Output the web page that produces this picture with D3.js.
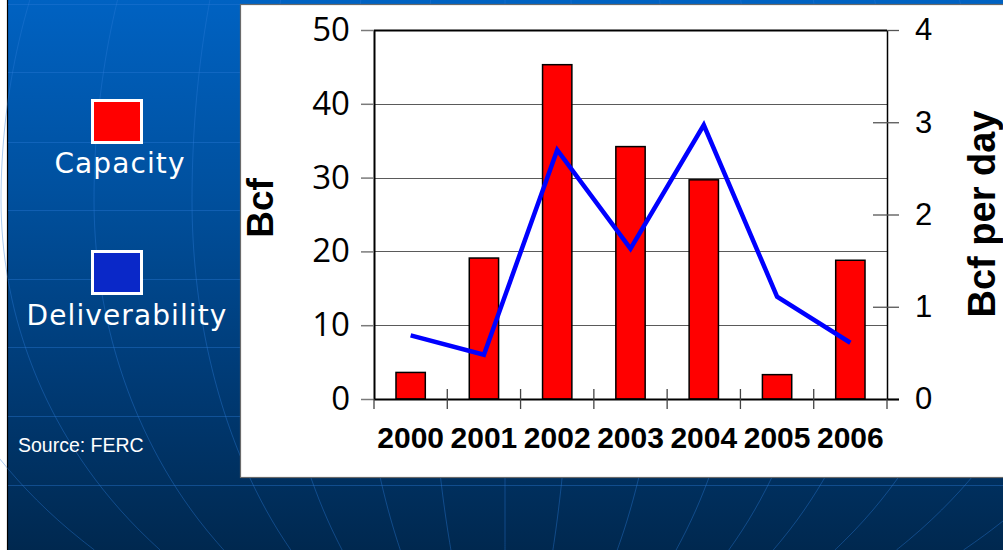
<!DOCTYPE html>
<html>
<head>
<meta charset="utf-8">
<script src="https://cdn.jsdelivr.net/npm/d3@7"></script>
<style>
  html, body { margin: 0; padding: 0; background: #ffffff; }
  svg { display: block; }
</style>
</head>
<body>
<svg id="chart" width="1003" height="550"></svg>
<script>
// ---- data ----
const years = ["2000", "2001", "2002", "2003", "2004", "2005", "2006"];
const capacity = [3.6, 19.1, 45.3, 34.2, 29.7, 3.3, 18.8];        // Bcf (left axis)
const deliverability = [0.69, 0.48, 2.70, 1.63, 2.97, 1.11, 0.61]; // Bcf per day (right axis)
const leftTicks = [0, 10, 20, 30, 40, 50];
const rightTicks = [0, 1, 2, 3, 4];
const legendItems = ["Capacity", "Deliverability"];
const legendColors = ["#ff0000", "#0a28c8"];

(function () {
const W = 1003, H = 550;
const svg = d3.select("#chart");

// ---- background ----
const defs = svg.append("defs");
const grad = defs.append("linearGradient").attr("id", "bg").attr("x1", 0).attr("y1", 0).attr("x2", 0).attr("y2", 1);
grad.append("stop").attr("offset", "0%").attr("stop-color", "#0062c2");
grad.append("stop").attr("offset", "35%").attr("stop-color", "#00509e");
grad.append("stop").attr("offset", "70%").attr("stop-color", "#003a74");
grad.append("stop").attr("offset", "100%").attr("stop-color", "#00284f");

svg.append("rect").attr("x", 0).attr("y", 0).attr("width", W).attr("height", H).attr("fill", "#ffffff");
svg.append("rect").attr("x", 8).attr("y", 0).attr("width", W - 8).attr("height", H).attr("fill", "url(#bg)");
svg.append("line").attr("x1", 7.5).attr("x2", 7.5).attr("y1", 0).attr("y2", H).attr("stroke", "#000").attr("stroke-width", 1.2);

// globe-like decorative lines
const deco = svg.append("g").attr("stroke", "#2a7ad8").attr("stroke-opacity", 0.4).attr("fill", "none").attr("stroke-width", 1);
[4, 72, 142, 210, 279, 347, 416, 485].forEach(y => {
  deco.append("line").attr("x1", 8).attr("x2", W).attr("y1", y + 0.5).attr("y2", y + 0.5);
});
const amps = [600, 504, 411, 313, 238, 153, 79, 0, -70, -164, -250, -327, -392, -482, -572, -670, -760];
const lineGen = d3.line().curve(d3.curveBasis);
amps.forEach(A => {
  const pts = d3.range(0, 551, 10).map(y => {
    const B = y > 200 ? 480 : 600;
    const t = (y - 200) / B;
    return [505 - A * Math.sqrt(Math.max(0, 1 - t * t)), y];
  });
  deco.append("path").attr("d", lineGen(pts));
});

// ---- white chart panel ----
svg.append("rect").attr("x", 240.5).attr("y", 4.5).attr("width", 780).attr("height", 473)
  .attr("fill", "#ffffff").attr("stroke", "#6a6a6a").attr("stroke-width", 1.2);

// ---- scales ----
const pLeft = 374, pRight = 887, pTop = 30, pBottom = 399;
const x = d3.scaleBand().domain(years).range([pLeft, pRight]).paddingInner(0.6).paddingOuter(0.3);
const yL = d3.scaleLinear().domain([0, 50]).range([pBottom, pTop]);
const yR = d3.scaleLinear().domain([0, 4]).range([pBottom, pTop]);

// gridlines
svg.append("g").selectAll("line").data(leftTicks.filter(d => d > 0 && d < 50)).join("line")
  .attr("x1", pLeft).attr("x2", pRight)
  .attr("y1", d => Math.round(yL(d)) + 0.5).attr("y2", d => Math.round(yL(d)) + 0.5)
  .attr("stroke", "#5a5a5a").attr("stroke-width", 1.2);

// plot frame top
svg.append("line").attr("x1", pLeft).attr("x2", pRight).attr("y1", pTop + 0.5).attr("y2", pTop + 0.5)
  .attr("stroke", "#000").attr("stroke-width", 2);

// bars
svg.append("g").selectAll("rect").data(years).join("rect")
  .attr("x", d => x(d))
  .attr("y", (d, i) => yL(capacity[i]))
  .attr("width", x.bandwidth())
  .attr("height", (d, i) => pBottom - yL(capacity[i]))
  .attr("fill", "#ff0000").attr("stroke", "#000").attr("stroke-width", 1.5);

// left axis
const gL = svg.append("g").attr("transform", `translate(${pLeft},0)`)
  .call(d3.axisLeft(yL).tickValues(leftTicks).tickFormat(d3.format("d")).tickSize(13).tickSizeOuter(0).tickPadding(11));
gL.select(".domain").attr("stroke", "#000").attr("stroke-width", 2);
gL.selectAll(".tick line").attr("stroke", "#7a7a7a").attr("stroke-width", 1.5);
gL.selectAll(".tick text").attr("font-family", "'Open Sans', 'Liberation Sans', sans-serif")
  .attr("font-size", 33).attr("fill", "#000");

// right axis
const gR = svg.append("g").attr("transform", `translate(${pRight},0)`)
  .call(d3.axisRight(yR).tickValues(rightTicks).tickFormat(d3.format("d")).tickSize(12).tickSizeOuter(0).tickPadding(16));
gR.select(".domain").attr("stroke", "#000").attr("stroke-width", 1.5);
gR.selectAll(".tick line").attr("stroke", "#555").attr("stroke-width", 1.3)
  .attr("x1", d => (d > 0 && d < 4) ? -14 : 0);
gR.selectAll(".tick text").attr("font-family", "'Liberation Sans', Arial, sans-serif")
  .attr("font-size", 31).attr("fill", "#000");

// bottom axis: boundary ticks
const gap = (x.step() - x.bandwidth()) / 2;
const bounds = years.map(d => x(d) - gap).concat([x(years[years.length - 1]) + x.bandwidth() + gap]);
svg.append("line").attr("x1", pLeft).attr("x2", pRight + 12).attr("y1", pBottom + 0.5).attr("y2", pBottom + 0.5)
  .attr("stroke", "#000").attr("stroke-width", 2);
svg.append("g").selectAll("line").data(bounds).join("line")
  .attr("x1", d => d).attr("x2", d => d)
  .attr("y1", (d, i) => (i === 0 || i === bounds.length - 1) ? pBottom : pBottom - 10)
  .attr("y2", pBottom + 10)
  .attr("stroke", "#444").attr("stroke-width", 1.3);

const gX = svg.append("g").attr("transform", `translate(0,${pBottom})`)
  .call(d3.axisBottom(x).tickSize(0).tickPadding(28));
gX.select(".domain").remove();
gX.selectAll(".tick text").attr("font-family", "'Liberation Sans', Arial, sans-serif")
  .attr("font-weight", "bold").attr("font-size", 30).attr("fill", "#000");

// deliverability line
const line = d3.line()
  .x((d, i) => x(years[i]) + x.bandwidth() / 2)
  .y(d => yR(d));
svg.append("path").datum(deliverability).attr("d", line)
  .attr("fill", "none").attr("stroke", "#0000ff").attr("stroke-width", 4.5)
  .attr("stroke-linejoin", "miter");

// axis titles
svg.append("text").attr("transform", "translate(273,208) rotate(-90)")
  .attr("text-anchor", "middle").attr("font-family", "'Liberation Sans', Arial, sans-serif")
  .attr("font-weight", "bold").attr("font-size", 37).attr("fill", "#000").text("Bcf");
svg.append("text").attr("transform", "translate(995,214) rotate(-90)")
  .attr("text-anchor", "middle").attr("font-family", "'Liberation Sans', Arial, sans-serif")
  .attr("font-weight", "bold").attr("font-size", 38).attr("fill", "#000").text("Bcf per day");

// ---- legend ----
const legY = [100.5, 251.5];
const legTextY = [173, 325];
const legCx = [120, 127];
legendItems.forEach((name, i) => {
  svg.append("rect").attr("x", 92.5).attr("y", legY[i]).attr("width", 49).attr("height", 42)
    .attr("fill", legendColors[i]).attr("stroke", "#fff").attr("stroke-width", 3);
  svg.append("text").attr("x", legCx[i]).attr("y", legTextY[i]).attr("text-anchor", "middle")
    .attr("font-family", "'DejaVu Sans', Verdana, sans-serif").attr("font-size", 28)
    .attr("letter-spacing", 1.1).attr("fill", "#fff").text(name);
});

svg.append("text").attr("x", 18).attr("y", 452)
  .attr("font-family", "'Liberation Sans', Arial, sans-serif").attr("font-size", 19.5)
  .attr("fill", "#fff").text("Source: FERC");
})();
</script>
</body>
</html>
